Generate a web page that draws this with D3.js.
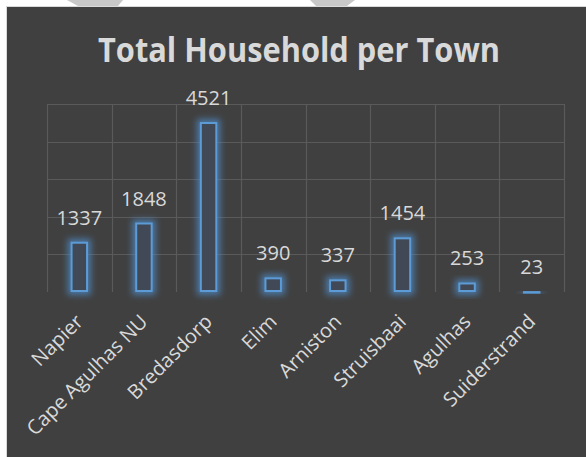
<!DOCTYPE html>
<html lang="en">
<head>
    <meta charset="UTF-8">
    <title>Total Household per Town</title>
    <script src="https://cdnjs.cloudflare.com/ajax/libs/d3/7.8.5/d3.min.js"></script>
    <style>
        body {
            margin: 0;
            padding: 0;
            background-color: #ffffff;
            font-family: "Open Sans", "Noto Sans", sans-serif;
        }
    </style>
</head>
<body>
    <div id="chart"></div>

    <script>
        // Data
        const towns = ["Napier", "Cape Agulhas NU", "Bredasdorp", "Elim", "Arniston", "Struisbaai", "Agulhas", "Suiderstrand"];
        const households = [1337, 1848, 4521, 390, 337, 1454, 253, 23];
        const yTicks = [0, 1000, 2000, 3000, 4000, 5000];

        // Dimensions
        const width = 586;
        const height = 457;
        const margin = { top: 104, right: 22, bottom: 165, left: 47 };

        const svg = d3.select("#chart")
            .append("svg")
            .attr("width", width)
            .attr("height", height);

        // glow for the bars
        const defs = svg.append("defs");
        const glow = defs.append("filter")
            .attr("id", "glow")
            .attr("x", "-100%").attr("y", "-100%")
            .attr("width", "300%").attr("height", "300%");
        glow.append("feMorphology")
            .attr("in", "SourceAlpha")
            .attr("operator", "dilate")
            .attr("radius", 2.5)
            .attr("result", "thick");
        glow.append("feGaussianBlur")
            .attr("in", "thick")
            .attr("stdDeviation", 3)
            .attr("result", "blur");
        glow.append("feFlood")
            .attr("flood-color", "#4f8fcf")
            .attr("flood-opacity", 0.7);
        glow.append("feComposite")
            .attr("in2", "blur")
            .attr("operator", "in")
            .attr("result", "glowColor");
        const merge = glow.append("feMerge");
        merge.append("feMergeNode").attr("in", "glowColor");
        merge.append("feMergeNode").attr("in", "SourceGraphic");

        // watermark bits peeking in above the chart
        svg.append("polygon")
            .attr("points", "67,0 123,0 118,6 78,6")
            .attr("fill", "#c8c8c8");
        svg.append("polygon")
            .attr("points", "310,0 355,0 347,6 316,6")
            .attr("fill", "#c8c8c8");

        // chart background
        svg.append("rect")
            .attr("x", 6.5)
            .attr("y", 6.5)
            .attr("width", width - 6)
            .attr("height", height - 6)
            .attr("fill", "#404040")
            .attr("stroke", "#d9d9d9")
            .attr("stroke-width", 1);

        // Scales
        const x = d3.scaleBand()
            .domain(towns)
            .range([margin.left, width - margin.right])
            .paddingInner(0.73)
            .paddingOuter(0.365);

        const y = d3.scaleLinear()
            .domain([0, 5000])
            .range([height - margin.bottom, margin.top]);

        const step = x.step();
        const gridLeft = x(towns[0]) - x.paddingOuter() * step;

        // horizontal gridlines
        svg.append("g")
            .selectAll("line")
            .data(yTicks.slice(1))
            .enter().append("line")
            .attr("x1", gridLeft)
            .attr("x2", gridLeft + step * towns.length)
            .attr("y1", d => Math.round(y(d)) + 0.5)
            .attr("y2", d => Math.round(y(d)) + 0.5)
            .attr("stroke", "#5a5a5a")
            .attr("stroke-width", 1.2);

        // vertical gridlines at category boundaries
        svg.append("g")
            .selectAll("line")
            .data(d3.range(towns.length + 1))
            .enter().append("line")
            .attr("x1", i => Math.round(gridLeft + i * step) + 0.5)
            .attr("x2", i => Math.round(gridLeft + i * step) + 0.5)
            .attr("y1", y(5000))
            .attr("y2", y(0))
            .attr("stroke", "#5a5a5a")
            .attr("stroke-width", 1.2);

        // Bars
        svg.append("g")
            .selectAll("rect")
            .data(households)
            .enter().append("rect")
            .attr("x", (d, i) => x(towns[i]) + 1)
            .attr("y", d => y(d) + 1)
            .attr("width", x.bandwidth() - 2)
            .attr("height", d => Math.max(0.5, y(0) - y(d) - 2))
            .attr("fill", "#414855")
            .attr("stroke", "#5b9bd5")
            .attr("stroke-width", 2)
            .attr("filter", "url(#glow)");

        // Data labels
        svg.append("g")
            .selectAll("text")
            .data(households)
            .enter().append("text")
            .attr("x", (d, i) => x(towns[i]) + x.bandwidth() / 2)
            .attr("y", d => y(d) - 17)
            .attr("text-anchor", "middle")
            .style("font-size", "20px")
            .style("fill", "#d9d9d9")
            .text(d => d);

        // Category labels
        svg.append("g")
            .selectAll("text")
            .data(towns)
            .enter().append("text")
            .attr("transform", d => `translate(${x(d) + x.bandwidth() / 2},${y(0) + 26}) rotate(-45)`)
            .attr("dy", "0.35em")
            .attr("text-anchor", "end")
            .style("font-size", "20px")
            .style("fill", "#d9d9d9")
            .text(d => d);

        // Title
        svg.append("text")
            .attr("x", 299)
            .attr("y", 62)
            .attr("text-anchor", "middle")
            .attr("textLength", 402)
            .attr("lengthAdjust", "spacingAndGlyphs")
            .style("font-size", "34px")
            .style("font-weight", "bold")
            .style("fill", "#d9d9d9")
            .text("Total Household per Town");
    </script>
</body>
</html>
